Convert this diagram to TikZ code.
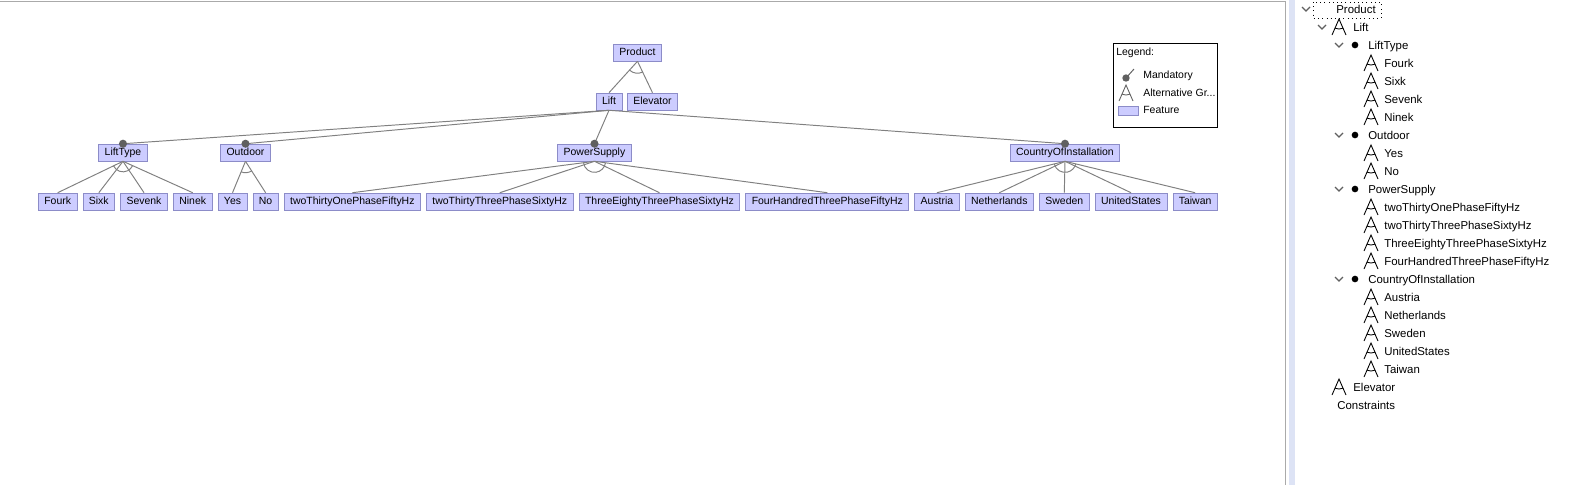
\documentclass[tikz,border=0pt]{standalone}
\usepackage{fontspec}
\setmainfont{Liberation Sans}
\usetikzlibrary{positioning,calc}
\definecolor{featfill}{RGB}{204,204,255}
\definecolor{featline}{RGB}{140,140,200}
\definecolor{edgecol}{RGB}{128,128,128}
\definecolor{dotcol}{RGB}{96,96,96}
\definecolor{panelline}{RGB}{170,170,170}
\definecolor{stripcol}{RGB}{221,227,245}

% arc of an alternative group: parent, first child, last child, radius
\newcommand{\altarc}[4]{%
  \draw[edge] let \p1=($(#2.north)-(#1.south)$), \p2=($(#3.north)-(#1.south)$),
    \n1={atan2(\y1,\x1)}, \n2={atan2(\y2,\x2)} in
    ($(#1.south)+(\n1:#4)$) arc[start angle=\n1, end angle=\n2, radius=#4];}

\tikzset{
  feature/.style={draw=featline, fill=featfill, font=\fontsize{5.95}{7}\selectfont,
    inner xsep=3.4pt, inner ysep=0pt, minimum height=9.6pt, text height=4.5pt, text depth=1.3pt},
  edge/.style={draw=edgecol, line width=0.55pt},
  mandot/.style={fill=dotcol},
  legendtext/.style={anchor=west, inner sep=0pt, font=\fontsize{5.95}{7}\selectfont},
  treelabel/.style={anchor=west, inner sep=0pt, text height=4.8pt, text depth=1.4pt,
    yshift=-1.1pt, font=\fontsize{6.5}{8}\selectfont},
  alticon/.pic={
    \draw[line width=0.5pt] (-7,8) -- (0,-8) -- (7,8);
    \draw[line width=0.5pt] (0,-8) ++(-113.6:5.7pt) arc[start angle=-113.6, end angle=-66.4, radius=5.7pt];},
  chevron/.pic={\draw[dotcol, line width=0.7pt] (-4,-2) -- (0,2) -- (4,-2);}
}

\begin{document}
\begin{tikzpicture}[x=0.02cm, y=-0.02cm]
\useasboundingbox (0,0) rectangle (1570,485);

% ---- Panels ----
\fill[white] (0,0) rectangle (1570,485);
\draw[panelline] (0,1) -- (1285,1) -- (1285,485);
\fill[stripcol] (1289,0) rectangle (1295,485);

% ---- Feature nodes ----
\node[feature] (product) at (637.5,52.5) {Product};
\node[feature] (lift) at (609,101.5) {Lift};
\node[feature] (elevator) at (652.5,101.5) {Elevator};

\node[feature] (lifttype) at (123,152.5) {LiftType};
\node[feature] (outdoor) at (245.5,152.5) {Outdoor};
\node[feature] (power) at (594.5,152.5) {PowerSupply};
\node[feature] (country) at (1065,152.5) {CountryOfInstallation};

\node[feature, anchor=west] (fourk) at (38,201.5) {Fourk};
\node[feature, right=0.105cm of fourk] (sixk) {Sixk};
\node[feature, right=0.105cm of sixk] (sevenk) {Sevenk};
\node[feature, right=0.105cm of sevenk] (ninek) {Ninek};
\node[feature, right=0.105cm of ninek] (yes) {Yes};
\node[feature, right=0.105cm of yes] (no) {No};
\node[feature, right=0.105cm of no] (ps1) {twoThirtyOnePhaseFiftyHz};
\node[feature, right=0.105cm of ps1] (ps2) {twoThirtyThreePhaseSixtyHz};
\node[feature, right=0.105cm of ps2] (ps3) {ThreeEightyThreePhaseSixtyHz};
\node[feature, right=0.105cm of ps3] (ps4) {FourHandredThreePhaseFiftyHz};
\node[feature, right=0.105cm of ps4] (austria) {Austria};
\node[feature, right=0.105cm of austria] (netherlands) {Netherlands};
\node[feature, right=0.105cm of netherlands] (sweden) {Sweden};
\node[feature, right=0.105cm of sweden] (usa) {UnitedStates};
\node[feature, right=0.105cm of usa] (taiwan) {Taiwan};

% ---- Connectors ----
\draw[edge] (product.south) -- (lift.north);
\draw[edge] (product.south) -- (elevator.north);
\altarc{product}{lift}{elevator}{6.8pt}

\foreach \c in {lifttype,outdoor,power,country} {
  \draw[edge] (lift.south) -- (\c.north);
  \fill[mandot] (\c.north) circle[radius=2.3pt];
}

\foreach \c in {fourk,sixk,sevenk,ninek}
  \draw[edge] (lifttype.south) -- (\c.north);
\altarc{lifttype}{fourk}{ninek}{6pt}

\foreach \c in {yes,no}
  \draw[edge] (outdoor.south) -- (\c.north);
\altarc{outdoor}{yes}{no}{6.5pt}

\foreach \c in {ps1,ps2,ps3,ps4}
  \draw[edge] (power.south) -- (\c.north);
\altarc{power}{ps1}{ps4}{6.3pt}

\foreach \c in {austria,netherlands,sweden,usa,taiwan}
  \draw[edge] (country.south) -- (\c.north);
\altarc{country}{austria}{taiwan}{6.3pt}

% ---- Legend ----
\node[draw=black, line width=0.55pt, anchor=north west, minimum width=2.08cm, minimum height=1.68cm] (legend) at (1113,43) {};
\node[legendtext] (legtitle) at (1116,53) {Legend:};
\fill[mandot] (1126,78) circle[radius=2.1pt];
\draw[edge, draw=dotcol] (1126,78) -- (1134,69);
\node[legendtext] (legmand) at (1143,76) {Mandatory};
\pic[draw=dotcol] at (1126,93) {alticon};
\node[legendtext] (legalt) at (1143,93) {Alternative Gr...};
\draw[draw=featline, fill=featfill] (1118,106) rectangle (1138,115);
\node[legendtext] (legfeat) at (1143,110) {Feature};

% ---- Tree view ----
\draw[dotted] (1313,2) rectangle (1381,18);
\pic at (1306,9) {chevron};
\node[treelabel] (tProduct) at (1336,9) {Product};

\pic at (1322,27) {chevron};
\pic at (1339,27) {alticon};
\node[treelabel] (tLift) at (1353,27) {Lift};

\foreach \name/\y in {LiftType/45, Outdoor/135, PowerSupply/189, CountryOfInstallation/279} {
  \pic at (1339,\y) {chevron};
  \fill (1355,\y) circle[radius=1.9pt];
  \node[treelabel] (t\name) at (1368,\y) {\name};
}

\foreach \name/\y in {Fourk/63, Sixk/81, Sevenk/99, Ninek/117, Yes/153, No/171,
    twoThirtyOnePhaseFiftyHz/207, twoThirtyThreePhaseSixtyHz/225,
    ThreeEightyThreePhaseSixtyHz/243, FourHandredThreePhaseFiftyHz/261,
    Austria/297, Netherlands/315, Sweden/333, UnitedStates/351, Taiwan/369} {
  \pic at (1371,\y) {alticon};
  \node[treelabel] (t\name) at (1384,\y) {\name};
}

\pic at (1339,387) {alticon};
\node[treelabel] (tElevator) at (1353,387) {Elevator};
\node[treelabel] (tConstraints) at (1337,405) {Constraints};

\end{tikzpicture}
\end{document}
